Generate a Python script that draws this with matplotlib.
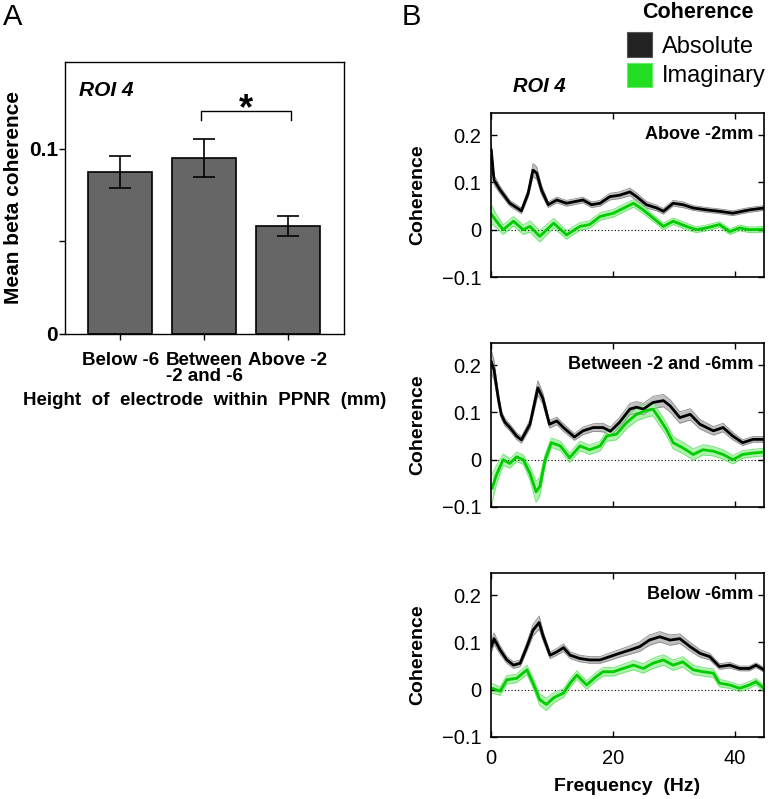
import numpy as np
import matplotlib.pyplot as plt
from matplotlib.patches import Rectangle

plt.rcParams['font.family'] = ['Liberation Sans', 'DejaVu Sans']

# Panel A: mean beta coherence per electrode height
groups = ['Below -6', 'Between\n-2 and -6', 'Above -2']
beta_mean = [0.0876, 0.0951, 0.0584]
beta_err = [0.0085, 0.0105, 0.0054]

# Panel B: coherence spectra (frequency in Hz)
above_abs_f = [0.05, 0.5, 1.5, 3.1, 5.0, 6.1, 6.9, 7.5, 8.3, 9.4, 10.8, 12.4, 15.1, 16.5, 17.9, 19.5,
               21.1, 22.8, 23.9, 25.5, 27.2, 28.3, 29.9, 31.5, 33.2, 35.4, 37.5, 39.7, 42.4, 44.8]
above_abs = [0.168, 0.105, 0.084, 0.056, 0.040, 0.077, 0.126, 0.120, 0.084, 0.053, 0.063, 0.056, 0.063,
             0.053, 0.056, 0.070, 0.073, 0.080, 0.070, 0.053, 0.046, 0.039, 0.056, 0.053, 0.046, 0.042,
             0.039, 0.035, 0.042, 0.046]
above_abs_sem = [0.015, 0.010, 0.008, 0.006, 0.006, 0.008, 0.014, 0.013, 0.010, 0.006, 0.006, 0.006, 0.006,
                 0.006, 0.006, 0.007, 0.007, 0.008, 0.008, 0.007, 0.006, 0.006, 0.006, 0.006, 0.005, 0.005,
                 0.005, 0.005, 0.005, 0.005]
above_imag_f = [0.1, 0.9, 2.0, 3.7, 5.3, 6.4, 8.0, 10.3, 12.4, 14.6, 16.2, 17.9, 20.1, 22.3, 23.4, 25.0,
                26.6, 28.3, 29.9, 32.1, 33.7, 35.4, 37.5, 39.2, 40.8, 42.4, 44.8]
above_imag = [0.032, 0.018, 0.0, 0.018, 0.0, 0.007, -0.014, 0.014, -0.011, 0.007, 0.011, 0.028, 0.035,
              0.049, 0.056, 0.042, 0.025, 0.007, 0.018, 0.007, 0.0, 0.004, 0.011, -0.004, 0.004, 0.0, 0.001]
above_imag_sem = [0.020, 0.014, 0.010, 0.010, 0.010, 0.012, 0.012, 0.010, 0.009, 0.008, 0.008, 0.008, 0.008,
                  0.008, 0.008, 0.008, 0.007, 0.007, 0.007, 0.007, 0.006, 0.006, 0.006, 0.006, 0.006, 0.006,
                  0.006]

between_abs_f = [0.05, 0.5, 1.2, 1.7, 2.3, 3.1, 4.2, 5.0, 6.4, 7.7, 8.5, 9.6, 10.8, 11.9, 13.7, 15.1, 16.8,
                 18.4, 19.6, 21.1, 22.8, 23.9, 25.0, 26.6, 28.3, 29.4, 31.0, 32.7, 34.3, 36.5, 38.1, 39.7,
                 41.3, 43.0, 44.8]
between_abs = [0.207, 0.190, 0.130, 0.095, 0.079, 0.068, 0.050, 0.042, 0.075, 0.152, 0.130, 0.075, 0.082,
               0.068, 0.048, 0.061, 0.068, 0.068, 0.060, 0.079, 0.107, 0.111, 0.107, 0.121, 0.125, 0.114,
               0.089, 0.096, 0.075, 0.061, 0.068, 0.050, 0.036, 0.043, 0.043]
between_abs_sem = [0.025, 0.020, 0.012, 0.008, 0.008, 0.007, 0.007, 0.007, 0.009, 0.015, 0.012, 0.008, 0.008,
                   0.008, 0.007, 0.008, 0.008, 0.009, 0.009, 0.010, 0.012, 0.012, 0.012, 0.013, 0.013, 0.013,
                   0.012, 0.012, 0.010, 0.009, 0.009, 0.008, 0.006, 0.006, 0.006]
between_imag_f = [0.2, 0.9, 2.0, 3.1, 4.2, 5.3, 6.4, 7.4, 8.0, 8.9, 9.9, 11.4, 12.9, 14.6, 16.2, 17.9, 19.0,
                  20.6, 22.3, 23.9, 25.5, 26.6, 27.7, 28.8, 29.9, 31.5, 33.2, 34.8, 36.5, 38.1, 39.7, 41.3,
                  43.0, 44.8]
between_imag = [-0.060, -0.032, 0.0, -0.008, 0.006, 0.0, -0.029, -0.068, -0.057, 0.0, 0.036, 0.029, 0.004,
                0.029, 0.021, 0.029, 0.050, 0.054, 0.079, 0.096, 0.104, 0.107, 0.086, 0.064, 0.036, 0.025,
                0.011, 0.021, 0.018, 0.011, 0.0, 0.011, 0.014, 0.016]
between_imag_sem = [0.030, 0.020, 0.012, 0.010, 0.010, 0.010, 0.014, 0.022, 0.020, 0.012, 0.010, 0.010, 0.010,
                    0.010, 0.010, 0.010, 0.011, 0.012, 0.013, 0.014, 0.014, 0.014, 0.014, 0.013, 0.013, 0.012,
                    0.012, 0.011, 0.010, 0.010, 0.009, 0.008, 0.008, 0.008]

below_abs_f = [0.05, 0.5, 1.5, 2.6, 3.7, 4.8, 5.9, 6.9, 7.9, 8.6, 9.7, 10.8, 11.9, 13.0, 14.6, 16.2, 17.9,
               19.5, 21.1, 22.8, 24.4, 26.0, 27.7, 29.4, 31.0, 32.7, 34.3, 35.9, 37.5, 39.2, 40.8, 42.4,
               43.5, 44.8]
below_abs = [0.091, 0.108, 0.084, 0.063, 0.052, 0.056, 0.091, 0.126, 0.142, 0.112, 0.073, 0.080, 0.089,
             0.073, 0.066, 0.063, 0.063, 0.070, 0.077, 0.084, 0.091, 0.105, 0.112, 0.105, 0.108, 0.091,
             0.077, 0.070, 0.049, 0.052, 0.045, 0.045, 0.052, 0.042]
below_abs_sem = [0.012, 0.012, 0.009, 0.007, 0.007, 0.007, 0.009, 0.012, 0.014, 0.010, 0.007, 0.007, 0.008,
                 0.007, 0.007, 0.007, 0.007, 0.008, 0.008, 0.009, 0.010, 0.011, 0.011, 0.011, 0.010, 0.009,
                 0.008, 0.007, 0.006, 0.006, 0.005, 0.005, 0.005, 0.005]
below_imag_f = [0.2, 1.5, 2.6, 4.2, 5.9, 6.9, 8.0, 9.1, 10.3, 11.9, 13.0, 14.1, 15.7, 17.3, 18.4, 20.1, 21.7,
                23.4, 25.0, 26.6, 28.3, 29.9, 31.5, 33.2, 34.8, 36.5, 37.5, 39.2, 40.8, 42.4, 43.5, 44.8]
below_imag = [0.003, -0.003, 0.021, 0.024, 0.042, 0.014, -0.021, -0.031, -0.017, -0.007, 0.014, 0.031, 0.010,
              0.028, 0.038, 0.038, 0.045, 0.052, 0.045, 0.056, 0.063, 0.052, 0.059, 0.042, 0.038, 0.035,
              0.014, 0.010, 0.003, 0.010, 0.017, 0.003]
below_imag_sem = [0.010, 0.009, 0.009, 0.009, 0.010, 0.010, 0.012, 0.013, 0.011, 0.009, 0.009, 0.009, 0.009,
                  0.009, 0.009, 0.009, 0.009, 0.010, 0.010, 0.011, 0.011, 0.011, 0.011, 0.010, 0.009, 0.009,
                  0.008, 0.007, 0.007, 0.007, 0.007, 0.007]

spectra = [
    ('Above -2mm', above_abs_f, above_abs, above_abs_sem, above_imag_f, above_imag, above_imag_sem),
    ('Between -2 and -6mm', between_abs_f, between_abs, between_abs_sem,
     between_imag_f, between_imag, between_imag_sem),
    ('Below -6mm', below_abs_f, below_abs, below_abs_sem, below_imag_f, below_imag, below_imag_sem),
]

fig = plt.figure(figsize=(7.71, 7.99), dpi=100)

# ---- Panel A ----
axA = fig.add_axes([0.0843, 0.582, 0.3619, 0.3404])
xpos = np.arange(1, len(groups) + 1)
axA.bar(xpos, beta_mean, width=0.76, color='#666666', edgecolor='black', linewidth=1.2)
axA.errorbar(xpos, beta_mean, yerr=beta_err, fmt='none', ecolor='black', elinewidth=1.2, capsize=8,
             capthick=1.2)
axA.set_xlim(0.34, 3.67)
axA.set_ylim(0, 0.147)
axA.set_yticks([0, 0.05, 0.1])
axA.set_yticklabels(['0', '', '0.1'], fontweight='bold', fontsize=15)
axA.set_xticks(xpos)
axA.set_xticklabels(groups, fontweight='bold', fontsize=13.5, linespacing=0.95)
axA.tick_params(direction='out', length=4, width=1)
axA.tick_params(axis='y', pad=1)
axA.tick_params(axis='x', pad=9)
axA.set_ylabel('Mean beta coherence', fontweight='bold', fontsize=15)
axA.yaxis.set_label_coords(-0.15, 0.5)
axA.set_xlabel('Height  of  electrode  within  PPNR  (mm)', fontweight='bold', fontsize=13.5, labelpad=5)
for s in axA.spines.values():
    s.set_linewidth(1.0)
axA.text(0.05, 0.897, 'ROI 4', transform=axA.transAxes, fontsize=15, fontweight='bold',
         fontstyle='italic', ha='left', va='center')
# significance bracket between the middle and right bar
b0, b1 = xpos[1] - 0.04, xpos[2] + 0.04
axA.plot([b0, b0, b1, b1], [0.1157, 0.1205, 0.1205, 0.1157], color='black', lw=1.0)
axA.text((b0 + b1) / 2, 0.1163, '*', fontsize=26, fontweight='bold', ha='center', va='baseline')

# ---- Panel B ----
b_bottoms = [0.6533, 0.3655, 0.0776]
for i, (name, af, am, asem, jf, jm, jsem) in enumerate(spectra):
    ax = fig.add_axes([0.6368, b_bottoms[i], 0.354, 0.2053])
    af, am, asem = np.array(af), np.array(am), np.array(asem)
    jf, jm, jsem = np.array(jf), np.array(jm), np.array(jsem)
    ax.axhline(0, color='black', lw=0.8, ls=(0, (1, 2)))
    ax.fill_between(af, am - asem, am + asem, color='#c0c0c0', lw=0)
    ax.plot(af, am - asem, color='#8a8a8a', lw=0.6)
    ax.plot(af, am + asem, color='#8a8a8a', lw=0.6)
    ax.fill_between(jf, jm - jsem, jm + jsem, color='#aef2ae', lw=0)
    ax.plot(jf, jm - jsem, color='#6fe26f', lw=0.6)
    ax.plot(jf, jm + jsem, color='#6fe26f', lw=0.6)
    ax.plot(af, am, color='black', lw=2.0)
    ax.plot(jf, jm, color='#00cc00', lw=2.0)
    ax.set_xlim(0, 44.8)
    ax.set_ylim(-0.1, 0.247)
    ax.set_yticks([-0.1, 0, 0.1, 0.2])
    ax.set_yticklabels(['\u22120.1', '0', '0.1', '0.2'], fontsize=14.5)
    ax.set_xticks([0, 20, 40])
    ax.tick_params(direction='in', length=4, width=1, top=True, right=True, pad=7)
    if i < 2:
        ax.set_xticklabels([])
    else:
        ax.set_xticklabels(['0', '20', '40'], fontsize=14.5)
        ax.tick_params(axis='x', pad=9)
        ax.set_xlabel('Frequency  (Hz)', fontweight='bold', fontsize=14, labelpad=7)
    ax.set_ylabel('Coherence', fontweight='bold', fontsize=14)
    ax.yaxis.set_label_coords(-0.236, 0.5)
    for s in ax.spines.values():
        s.set_linewidth(1.2)
    ax.text(0.963, 0.87, name, transform=ax.transAxes, fontsize=13, fontweight='bold',
            ha='right', va='center')

fig.text(539 / 771, 1 - 87 / 799, 'ROI 4', fontsize=14.5, fontweight='bold', fontstyle='italic',
         ha='center', va='center')

# panel letters
fig.text(3 / 771, 1 - 25 / 799, 'A', fontsize=21, va='baseline', ha='left')
fig.text(402 / 771, 1 - 25 / 799, 'B', fontsize=21, va='baseline', ha='left')

# legend
fig.text(642 / 771, 1 - 12 / 799, 'Coherence', fontsize=15.5, fontweight='bold', ha='left', va='center')
fig.add_artist(Rectangle((627 / 771, 1 - 57 / 799), 25 / 771, 25 / 799, transform=fig.transFigure,
                         facecolor='#222222', edgecolor='#555555', lw=0.8))
fig.add_artist(Rectangle((627 / 771, 1 - 87 / 799), 25 / 771, 24 / 799, transform=fig.transFigure,
                         facecolor='#22dd22', edgecolor='#66ee66', lw=0.8))
fig.text(662 / 771, 1 - 53 / 799, 'Absolute', fontsize=17, ha='left', va='baseline')
fig.text(662 / 771, 1 - 82 / 799, 'Imaginary', fontsize=17, ha='left', va='baseline')

fig.savefig('out.png', dpi=100)
